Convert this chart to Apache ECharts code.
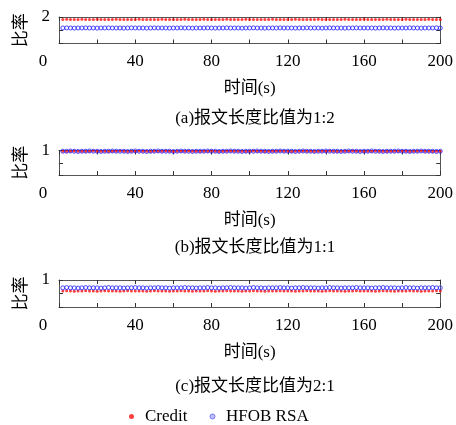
<!DOCTYPE html>
<html><head><meta charset="utf-8">
<script src="https://cdn.jsdelivr.net/npm/echarts@6/dist/echarts.min.js"></script>
<style>html,body{margin:0;padding:0;background:#fff}#c{width:456px;height:425px}</style>
</head><body><div id="c"></div>
<script>
// time (s)
var times = [2,4,6,8,10,12,14,16,18,20,22,24,26,28,30,32,34,36,38,40,
42,44,46,48,50,52,54,56,58,60,62,64,66,68,70,72,74,76,78,80,
82,84,86,88,90,92,94,96,98,100,102,104,106,108,110,112,114,116,118,120,
122,124,126,128,130,132,134,136,138,140,142,144,146,148,150,152,154,156,158,160,
162,164,166,168,170,172,174,176,178,180,182,184,186,188,190,192,194,196,198,200];

// (a) 1:2
var creditA = [1.82,1.83,1.81,1.82,1.82,1.83,1.82,1.81,1.82,1.83,1.82,1.82,1.81,1.82,1.83,1.82,1.82,1.81,1.82,1.82,
1.83,1.82,1.82,1.81,1.82,1.82,1.83,1.82,1.81,1.82,1.82,1.82,1.83,1.82,1.81,1.82,1.82,1.83,1.82,1.82,
1.81,1.82,1.82,1.83,1.82,1.82,1.81,1.82,1.83,1.82,1.82,1.82,1.81,1.82,1.82,1.83,1.82,1.81,1.82,1.82,
1.82,1.83,1.82,1.82,1.81,1.82,1.82,1.83,1.82,1.82,1.81,1.82,1.82,1.82,1.83,1.82,1.81,1.82,1.82,1.83,
1.82,1.82,1.81,1.82,1.82,1.83,1.82,1.82,1.81,1.82,1.83,1.82,1.82,1.81,1.82,1.82,1.83,1.82,1.82,1.82];
var hfobA = [1.17,1.18,1.17,1.16,1.17,1.17,1.18,1.17,1.17,1.16,1.17,1.17,1.18,1.17,1.17,1.17,1.16,1.17,1.18,1.17,
1.17,1.17,1.16,1.17,1.18,1.17,1.17,1.17,1.16,1.17,1.17,1.18,1.17,1.17,1.16,1.17,1.17,1.17,1.18,1.17,
1.16,1.17,1.17,1.18,1.17,1.17,1.17,1.16,1.17,1.17,1.18,1.17,1.17,1.16,1.17,1.17,1.17,1.18,1.17,1.17,
1.17,1.16,1.17,1.17,1.18,1.17,1.17,1.17,1.16,1.17,1.18,1.17,1.17,1.17,1.16,1.17,1.17,1.18,1.17,1.17,
1.17,1.17,1.16,1.17,1.18,1.17,1.17,1.16,1.17,1.17,1.17,1.18,1.17,1.17,1.16,1.17,1.17,1.17,1.18,1.17];

// (b) 1:1
var creditB = [0.97,0.96,0.97,0.98,0.97,0.97,0.96,0.97,0.98,0.97,0.97,0.97,0.96,0.97,0.97,0.98,0.97,0.96,0.97,0.97,
0.98,0.97,0.97,0.96,0.97,0.97,0.97,0.98,0.97,0.96,0.97,0.97,0.97,0.98,0.97,0.97,0.96,0.97,0.97,0.98,
0.97,0.96,0.97,0.97,0.98,0.97,0.97,0.97,0.96,0.97,0.98,0.97,0.97,0.96,0.97,0.97,0.97,0.98,0.97,0.97,
0.96,0.97,0.97,0.98,0.97,0.97,0.96,0.97,0.97,0.97,0.98,0.97,0.96,0.97,0.97,0.97,0.98,0.97,0.97,0.96,
0.97,0.97,0.98,0.97,0.97,0.96,0.97,0.97,0.97,0.98,0.97,0.96,0.97,0.97,0.98,0.97,0.97,0.96,0.97,0.97];
var hfobB = [0.97,0.97,0.98,0.97,0.96,0.97,0.97,0.98,0.97,0.97,0.96,0.97,0.97,0.98,0.97,0.97,0.97,0.96,0.97,0.98,
0.97,0.97,0.96,0.97,0.97,0.98,0.97,0.97,0.97,0.96,0.97,0.98,0.97,0.97,0.96,0.97,0.97,0.97,0.98,0.97,
0.97,0.96,0.97,0.97,0.98,0.97,0.97,0.96,0.97,0.97,0.97,0.98,0.97,0.97,0.96,0.97,0.97,0.98,0.97,0.97,
0.97,0.96,0.97,0.98,0.97,0.97,0.96,0.97,0.97,0.98,0.97,0.97,0.97,0.96,0.97,0.98,0.97,0.97,0.96,0.97,
0.97,0.98,0.97,0.97,0.96,0.97,0.97,0.97,0.98,0.97,0.97,0.96,0.97,0.97,0.98,0.97,0.97,0.97,0.96,0.97];

// (c) 2:1
var creditC = [0.59,0.60,0.59,0.58,0.59,0.59,0.60,0.59,0.59,0.58,0.59,0.60,0.59,0.59,0.59,0.58,0.59,0.60,0.59,0.59,
0.59,0.59,0.58,0.59,0.60,0.59,0.59,0.59,0.58,0.59,0.59,0.60,0.59,0.59,0.58,0.59,0.59,0.59,0.60,0.59,
0.58,0.59,0.59,0.60,0.59,0.59,0.59,0.58,0.59,0.59,0.60,0.59,0.59,0.58,0.59,0.59,0.59,0.60,0.59,0.59,
0.59,0.58,0.59,0.59,0.60,0.59,0.59,0.59,0.58,0.59,0.60,0.59,0.59,0.59,0.58,0.59,0.59,0.60,0.59,0.59,
0.59,0.59,0.58,0.59,0.60,0.59,0.59,0.58,0.59,0.59,0.59,0.60,0.59,0.59,0.58,0.59,0.59,0.59,0.60,0.59];
var hfobC = [0.71,0.72,0.71,0.71,0.70,0.71,0.72,0.71,0.71,0.71,0.70,0.71,0.72,0.71,0.71,0.71,0.70,0.71,0.71,0.72,
0.71,0.71,0.70,0.71,0.71,0.72,0.71,0.71,0.70,0.71,0.71,0.71,0.72,0.71,0.71,0.70,0.71,0.71,0.72,0.71,
0.71,0.70,0.71,0.71,0.72,0.71,0.71,0.71,0.70,0.71,0.72,0.71,0.71,0.70,0.71,0.71,0.71,0.72,0.71,0.71,
0.70,0.71,0.71,0.72,0.71,0.71,0.71,0.70,0.71,0.71,0.72,0.71,0.71,0.70,0.71,0.71,0.71,0.72,0.71,0.71,
0.71,0.70,0.71,0.71,0.72,0.71,0.71,0.71,0.70,0.71,0.72,0.71,0.71,0.70,0.71,0.71,0.71,0.72,0.71,0.71];

var xTickLabels = [0,40,80,120,160,200];
var yTop = [2,1,1];
var yInt = [1,0.5,0.5];
var captions = ['(a)报文长度比值为1:2','(b)报文长度比值为1:1','(c)报文长度比值为2:1'];
var seriesNames = ['Credit','HFOB RSA'];

var FONT = '"Liberation Serif","Noto Sans CJK SC",serif';
var AX = '#555';
var grids = [
  {left:59, right:15, top:17, height:26.5},
  {left:59, right:15, top:150.5, height:24.5},
  {left:59, right:15, top:280, height:27}
];
var capY = [105, 234, 373];

function pairs(v){ return v.map(function(y,i){ return [times[i], y]; }); }
var sets = [[creditA,hfobA],[creditB,hfobB],[creditC,hfobC]];

var xAxes=[], yAxes=[], series=[], titles=[];
grids.forEach(function(g,i){
  xAxes.push({
    gridIndex:i, type:'value', min:0, max:200, interval:20, position:'bottom',
    axisLine:{onZero:false,lineStyle:{color:AX,width:1}},
    axisTick:{inside:true,length:4,lineStyle:{color:'#333'}},
    splitLine:{show:false},
    axisLabel:{color:'#000', fontFamily:FONT, fontSize:17, margin:10,
      formatter:function(v){ if(xTickLabels.indexOf(v)<0) return ''; return v===0?'{z|0}':String(v); },
      rich:{z:{fontFamily:FONT,fontSize:17,color:'#000',padding:[0,32,0,0]}}},
    name:'时间(s)', nameLocation:'middle', nameGap:37,
    nameTextStyle:{color:'#000', fontFamily:FONT, fontSize:17}
  });
  xAxes.push({
    gridIndex:i, type:'value', min:0, max:200, interval:20, position:'top',
    axisLine:{onZero:false,lineStyle:{color:AX,width:1}},
    axisTick:{inside:true,length:4,lineStyle:{color:'#333'}},
    axisLabel:{show:false}, splitLine:{show:false}
  });
  yAxes.push({
    gridIndex:i, type:'value', min:0, max:yTop[i], interval:yInt[i], position:'left',
    axisLine:{show:true,onZero:false,lineStyle:{color:AX,width:1}},
    axisTick:{show:true,inside:true,length:4,lineStyle:{color:'#333'}},
    splitLine:{show:false},
    axisLabel:{color:'#000', fontFamily:FONT, fontSize:17, margin:9,
      formatter:function(v){ return v===yTop[i]?String(v):''; }},
    name:'比率', nameLocation:'middle', nameGap:29, nameRotate:90,
    nameTextStyle:{color:'#000', fontFamily:FONT, fontSize:17}
  });
  yAxes.push({
    gridIndex:i, type:'value', min:0, max:yTop[i], interval:yInt[i], position:'right',
    axisLine:{show:true,onZero:false,lineStyle:{color:AX,width:1}},
    axisTick:{show:true,inside:true,length:4,lineStyle:{color:'#333'}},
    axisLabel:{show:false}, splitLine:{show:false}
  });
  series.push({
    name:seriesNames[0], type:'scatter', xAxisIndex:2*i, yAxisIndex:2*i,
    data:pairs(sets[i][0]), symbol:'circle', symbolSize:3,
    itemStyle:{color:'#ff1010'}, silent:true, z:2
  });
  series.push({
    name:seriesNames[1], type:'scatter', xAxisIndex:2*i, yAxisIndex:2*i,
    data:pairs(sets[i][1]), symbol:'circle', symbolSize:4,
    itemStyle:{color:'rgba(0,0,0,0)', borderColor:'#2020ff', borderWidth:1}, silent:true, z:3
  });
  titles.push({
    text:captions[i], left:250, top:capY[i], textAlign:'center',
    textStyle:{color:'#000', fontFamily:FONT, fontSize:17, fontWeight:'normal'}
  });
});

var chart = echarts.init(document.getElementById('c'), null, {renderer:'canvas'});
chart.setOption({
  animation:false,
  backgroundColor:'#fff',
  title:titles,
  grid:grids,
  xAxis:xAxes,
  yAxis:yAxes,
  legend:{
    data:[
      {name:'Credit', icon:'circle', itemStyle:{color:'#ff1010'}},
      {name:'HFOB RSA', icon:'circle', itemStyle:{color:'#b0b0ff', borderColor:'#6060ff', borderWidth:1}}
    ],
    left:124, top:403, itemWidth:5, itemHeight:5, itemGap:22,
    textStyle:{color:'#000', fontFamily:FONT, fontSize:17, padding:[0,0,0,6]}
  },
  series:series
});
</script></body></html>
